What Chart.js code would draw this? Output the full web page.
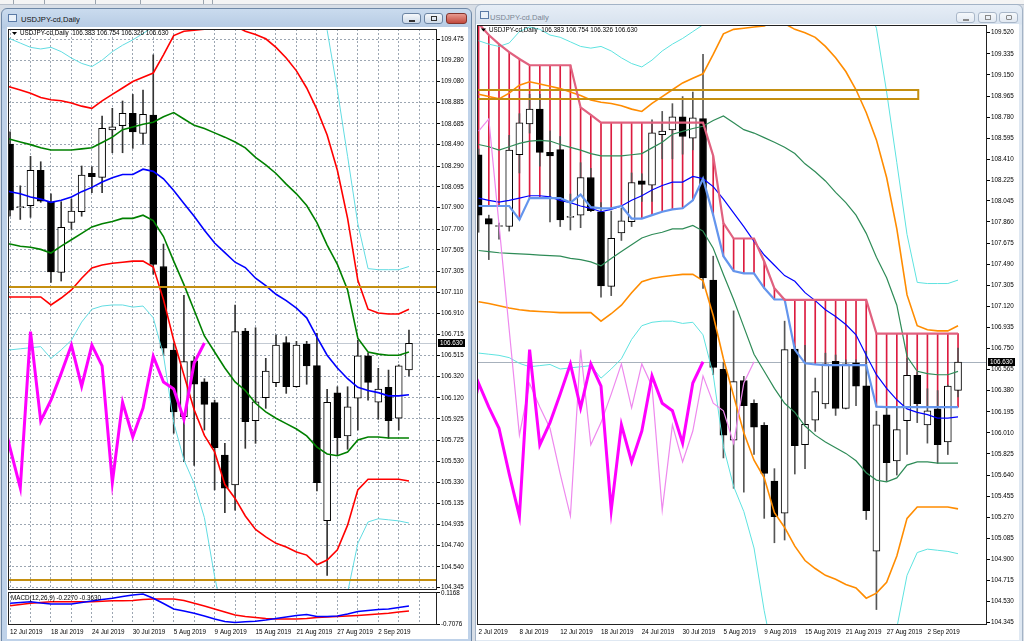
<!DOCTYPE html>
<html>
<head>
<meta charset="utf-8">
<script src="https://cdn.jsdelivr.net/npm/chart.js@4.4.1/dist/chart.umd.min.js"></script>
<style>
html, body { margin: 0; padding: 0; }
body { width: 1024px; height: 641px; position: relative; overflow: hidden; background: #d8dee6; font-family: "Liberation Sans", Arial, sans-serif; }
#strip { position: absolute; left: 0; top: 0; width: 1024px; height: 4px; background: #f4f4f4; border-bottom: 1px solid #b9c1cc; }
#strip i { position: absolute; top: 0; width: 1px; height: 4px; background: #9aa3ad; }
.win { position: absolute; box-sizing: border-box; border: 1px solid #6f88a6; border-radius: 6px 6px 0 0; background: linear-gradient(#cadbee, #b6cbe4 19px, #bfd2e9 20px); }
.win.off { border-color: #a3b3c6; background: linear-gradient(#e6edf6, #d8e3ef 19px, #dfe8f2 20px); }
.ttl { position: absolute; left: 19px; font-size: 7.6px; color: #111; white-space: nowrap; }
.off .ttl { color: #7a8593; }
.ico { position: absolute; left: 6px; width: 7px; height: 6px; border: 1px solid #5a7aa6; background: #eaf1f9; }
.btn { position: absolute; height: 11px; box-sizing: border-box; border: 1px solid #6b84a3; border-radius: 3px; background: linear-gradient(#f5f8fb, #cfdbe9); }
.btn.x { background: linear-gradient(#e89a90, #c24a3e); border-color: #84342d; }
.off .btn { border-color: #a9b7c9; background: linear-gradient(#f5f8fb, #e2e9f2); }
.btn i { position: absolute; border: 1px solid #333; box-sizing: border-box; }
.off .btn i { border-color: #888; }
.client { position: absolute; background: #fff; }
canvas { position: absolute; }
</style>
</head>
<body>
<div id="strip"><i style="left:13px"></i><i style="left:44px"></i><i style="left:95px"></i><i style="left:140px"></i><i style="left:203px"></i><i style="left:212px"></i></div>

<div class="win" style="left:1px; top:8px; width:471px; height:645px;">
  <div class="ico" style="top:5px;"></div>
  <div class="ttl" style="top:6px;">USDJPY-cd,Daily</div>
  <div class="btn" style="left:400px; top:4px; width:19px;"><i style="left:6px; top:6px; width:6px; height:2px;"></i></div>
  <div class="btn" style="left:422px; top:4px; width:19px;"><i style="left:6px; top:2px; width:6px; height:5px;"></i></div>
  <div class="btn x" style="left:444px; top:4px; width:21px;"></div>
</div>
<div class="client" style="left:7px; top:27px; width:461px; height:612px;"></div>

<div class="win off" style="left:475px; top:4px; width:548px; height:650px;">
  <div class="ico" style="top:6px; left:4px;"></div>
  <div class="ttl" style="top:8px; left:14px;">USDJPY-cd,Daily</div>
  <div class="btn" style="left:480px; top:7px; width:19px;"><i style="left:6px; top:6px; width:6px; height:2px;"></i></div>
  <div class="btn" style="left:502px; top:7px; width:19px;"><i style="left:6px; top:2px; width:6px; height:5px;"></i></div>
  <div class="btn" style="left:523px; top:7px; width:19px;"><i style="left:6px; top:2px; width:6px; height:5px; border-radius:1px;"></i></div>
</div>
<div class="client" style="left:476px; top:24px; width:543px; height:616px;"></div>

<canvas id="cvL" width="460" height="564" style="left:8px; top:29px;"></canvas>
<canvas id="cvM" width="460" height="53" style="left:8px; top:588px;"></canvas>
<canvas id="cvR" width="541" height="616" style="left:477px; top:25px;"></canvas>

<script>
// USDJPY daily, 2 Jul 2019 - 5 Sep 2019
const days = ['2 Jul 2019','3 Jul 2019','4 Jul 2019','5 Jul 2019','8 Jul 2019','9 Jul 2019','10 Jul 2019','11 Jul 2019',
  '12 Jul 2019','15 Jul 2019','16 Jul 2019','17 Jul 2019','18 Jul 2019','19 Jul 2019','22 Jul 2019','23 Jul 2019','24 Jul 2019','25 Jul 2019',
  '26 Jul 2019','29 Jul 2019','30 Jul 2019','31 Jul 2019','1 Aug 2019','2 Aug 2019','5 Aug 2019','6 Aug 2019','7 Aug 2019','8 Aug 2019',
  '9 Aug 2019','12 Aug 2019','13 Aug 2019','14 Aug 2019','15 Aug 2019','16 Aug 2019','19 Aug 2019','20 Aug 2019','21 Aug 2019','22 Aug 2019',
  '23 Aug 2019','26 Aug 2019','27 Aug 2019','28 Aug 2019','29 Aug 2019','30 Aug 2019','2 Sep 2019','3 Sep 2019','4 Sep 2019','5 Sep 2019'];

const open = [108.45, 107.89, 107.82, 107.82, 108.45, 108.72, 108.85, 108.47,
  108.495, 107.90, 107.92, 108.25, 107.95, 107.295, 107.763, 107.862, 108.221, 108.184,
  108.627, 108.667, 108.783, 108.596, 108.767, 107.35, 106.568, 105.945, 106.468, 106.27,
  106.076, 105.586, 105.306, 106.746, 105.907, 106.122, 106.263, 106.637, 106.225, 106.624,
  106.422, 104.972, 106.169, 105.764, 106.117, 106.515, 106.08, 106.22, 105.93, 106.383];
const high = [108.50, 107.92, 107.85, 108.62, 108.81, 108.98, 108.98, 108.66,
  108.61, 108.105, 108.38, 108.33, 108.03, 107.956, 107.981, 108.29, 108.283, 108.757,
  108.83, 108.898, 108.96, 109.00, 109.33, 107.56, 106.63, 107.08, 106.506, 106.30,
  106.10, 105.696, 106.99, 106.771, 106.777, 106.491, 106.709, 106.693, 106.65, 106.65,
  106.725, 106.20, 106.225, 106.225, 106.662, 106.54, 106.397, 106.381, 106.43, 106.754];
const low = [107.77, 107.53, 107.71, 107.78, 108.29, 108.64, 108.35, 107.86,
  107.82, 107.79, 107.81, 107.95, 107.20, 107.214, 107.698, 107.82, 108.04, 108.04,
  108.414, 108.414, 108.455, 108.493, 107.277, 106.52, 105.79, 105.524, 105.49, 105.82,
  105.26, 105.046, 105.07, 105.649, 105.696, 106.023, 106.225, 106.163, 106.22, 106.248,
  105.25, 104.46, 105.586, 105.64, 105.82, 106.10, 105.92, 105.743, 105.82, 106.326];
const close = [107.92, 107.84, 107.825, 108.49, 108.73, 108.85, 108.47, 108.44,
  107.878, 107.905, 108.25, 107.96, 107.30, 107.716, 107.869, 108.206, 108.19, 108.642,
  108.657, 108.783, 108.61, 108.773, 107.37, 106.585, 105.99, 106.46, 106.248, 106.06,
  105.655, 105.275, 106.74, 105.898, 106.085, 106.372, 106.615, 106.225, 106.615, 106.419,
  105.327, 106.08, 105.748, 106.038, 106.515, 106.266, 106.204, 105.907, 106.42, 106.63];

// Bollinger bands (middle, +-1, +-2, +-3 sigma)
const bbMid = [108.07, 108.05, 108.035, 108.05, 108.07, 108.09, 108.09, 108.08,
  108.05, 108.03, 108.00, 107.98, 107.95, 107.97, 108.00, 108.05, 108.09, 108.14,
  108.18, 108.21, 108.21, 108.26, 108.24, 108.17, 108.06, 107.94, 107.82, 107.69,
  107.57, 107.48, 107.39, 107.34, 107.24, 107.17, 107.09, 107.03, 106.96, 106.87,
  106.69, 106.52, 106.40, 106.30, 106.22, 106.19, 106.17, 106.14, 106.14, 106.15];
const bbUp1 = [108.54, 108.52, 108.49, 108.52, 108.55, 108.57, 108.575, 108.57,
  108.54, 108.515, 108.49, 108.46, 108.44, 108.44, 108.44, 108.45, 108.46, 108.51,
  108.56, 108.63, 108.655, 108.68, 108.70, 108.75, 108.79, 108.73, 108.67, 108.64,
  108.60, 108.56, 108.515, 108.46, 108.37, 108.30, 108.22, 108.12, 108.03, 107.92,
  107.76, 107.55, 107.37, 107.13, 106.68, 106.55, 106.53, 106.52, 106.52, 106.55];
const bbDn1 = [107.61, 107.60, 107.59, 107.585, 107.58, 107.575, 107.57, 107.565,
  107.56, 107.54, 107.53, 107.51, 107.476, 107.54, 107.60, 107.66, 107.72, 107.75,
  107.77, 107.80, 107.80, 107.83, 107.78, 107.63, 107.40, 107.18, 106.94, 106.70,
  106.55, 106.40, 106.27, 106.19, 106.07, 105.99, 105.93, 105.88, 105.83, 105.765,
  105.66, 105.596, 105.58, 105.615, 105.727, 105.755, 105.755, 105.745, 105.745, 105.745];
const bbUp2 = [108.98, 108.96, 108.94, 108.99, 109.06, 109.09, 109.07, 109.05,
  109.03, 109.00, 108.97, 108.93, 108.91, 108.90, 108.88, 108.85, 108.83, 108.90,
  108.96, 109.02, 109.08, 109.12, 109.16, 109.33, 109.51, 109.55, 109.56, 109.57,
  109.58, 109.62, 109.60, 109.55, 109.52, 109.48, 109.40, 109.30, 109.18, 109.02,
  108.82, 108.58, 108.25, 107.80, 107.22, 106.95, 106.915, 106.905, 106.905, 106.95];
const bbDn2 = [107.16, 107.145, 107.125, 107.105, 107.09, 107.08, 107.075, 107.07,
  107.065, 107.065, 107.065, 107.065, 106.99, 107.055, 107.13, 107.24, 107.336, 107.364,
  107.38, 107.39, 107.40, 107.40, 107.345, 107.04, 106.66, 106.335, 106.01, 105.77,
  105.615, 105.31, 105.18, 105.016, 104.89, 104.82, 104.76, 104.726, 104.68, 104.65,
  104.56, 104.604, 104.70, 104.93, 105.26, 105.36, 105.36, 105.36, 105.36, 105.343];
const bbUp3 = [109.45, 109.42, 109.40, 109.43, 109.53, 109.57, 109.55, 109.50,
  109.48, 109.44, 109.40, 109.385, 109.40, 109.36, 109.30, 109.25, 109.22, 109.28,
  109.36, 109.42, 109.47, 109.53, 109.59, 109.90, 110.20, 110.40, 110.50, 110.60,
  110.65, 110.70, 110.75, 110.75, 110.70, 110.60, 110.50, 110.30, 110.10, 109.95,
  109.80, 109.56, 109.00, 108.38, 107.75, 107.33, 107.32, 107.32, 107.32, 107.35];
const bbDn3 = [106.71, 106.70, 106.69, 106.67, 106.62, 106.59, 106.60, 106.61,
  106.57, 106.58, 106.59, 106.60, 106.49, 106.57, 106.66, 106.83, 106.95, 106.98,
  106.99, 106.99, 106.97, 106.98, 106.87, 106.52, 105.89, 105.54, 105.32, 105.00,
  104.45, 104.00, 103.70, 103.50, 103.40, 103.30, 103.20, 103.15, 103.10, 103.10,
  103.10, 103.30, 103.70, 104.30, 104.76, 104.96, 104.99, 104.98, 104.97, 104.95];

// cloud edges (right chart)
const cloudTop = [109.60, 109.50, 109.42, 109.35, 109.29, 109.235, 109.235, 109.235,
  109.235, 109.235, 108.865, 108.80, 108.731, 108.731, 108.731, 108.731, 108.731, 108.731,
  108.731, 108.731, 108.731, 108.731, 108.731, 108.44, 107.85, 107.715, 107.715, 107.715,
  107.513, 107.278, 107.177, 107.177, 107.177, 107.177, 107.177, 107.177, 107.177, 107.177,
  107.177, 106.881, 106.881, 106.881, 106.881, 106.881, 106.881, 106.881, 106.881, 106.881];
const cloudBot = [108.00, 108.00, 108.00, 108.00, 107.88, 108.07, 108.07, 108.07,
  108.07, 108.03, 108.10, 107.99, 107.98, 107.98, 108.00, 107.89, 107.89, 107.92,
  107.95, 107.97, 107.98, 108.05, 108.24, 107.92, 107.56, 107.43, 107.41, 107.41,
  107.28, 107.18, 107.18, 106.74, 106.62, 106.61, 106.605, 106.605, 106.605, 106.605,
  106.605, 106.24, 106.236, 106.236, 106.236, 106.236, 106.236, 106.236, 106.236, 106.236];

// magenta line plotted in price units (ends on 8 Aug); the right chart also shows it 5 bars earlier
const osc = [108.656, 108.764, 107.839, 106.915, 105.99, 106.444, 106.236, 106.05,
  105.65, 105.28, 106.74, 105.905, 106.10, 106.35, 106.615, 106.23, 106.615, 106.42,
  105.33, 106.08, 105.755, 106.026, 106.51, 106.27, 106.204, 105.92, 106.447, 106.634];
const oscShift = 5;

// MACD(12,26,9) from 12 Jul
const macdStart = 8;
const macdMain = [-0.157, -0.136, -0.115, -0.149, -0.176, -0.176, -0.176, -0.136, -0.096, -0.056,
  -0.024, 0.024, 0.064, 0.090, -0.024, -0.163, -0.309, -0.362, -0.423, -0.495,
  -0.575, -0.641, -0.668, -0.647, -0.633, -0.601, -0.561, -0.521, -0.482, -0.455,
  -0.508, -0.508, -0.495, -0.442, -0.375, -0.349, -0.322, -0.309, -0.269, -0.227];
const macdSignal = [-0.221, -0.189, -0.157, -0.136, -0.115, -0.115, -0.115, -0.115, -0.115, -0.101,
  -0.091, -0.088, -0.083, -0.056, -0.043, -0.043, -0.043, -0.083, -0.157, -0.229,
  -0.309, -0.389, -0.468, -0.508, -0.535, -0.561, -0.575, -0.575, -0.575, -0.561,
  -0.535, -0.521, -0.508, -0.495, -0.482, -0.463, -0.442, -0.423, -0.389, -0.363];

// axis ticks
const leftTicks = [109.475, 109.280, 109.080, 108.885, 108.685, 108.490, 108.290, 108.095, 107.900, 107.700,
  107.505, 107.305, 107.110, 106.910, 106.715, 106.515, 106.320, 106.120, 105.925, 105.725,
  105.530, 105.330, 105.135, 104.935, 104.740, 104.540, 104.345];
const rightTicks = [109.520, 109.335, 109.150, 108.965, 108.780, 108.595, 108.410, 108.225, 108.045, 107.860,
  107.675, 107.490, 107.305, 107.120, 106.935, 106.750, 106.565, 106.380, 106.195, 106.010,
  105.825, 105.640, 105.455, 105.270, 105.085, 104.900, 104.715, 104.530, 104.345];
const macdTicks = [0.1168, -0.7076];
const dateTicks = [0, 4, 8, 12, 16, 20, 24, 28, 32, 36, 40, 44];

// drawn objects
const leftLevels = [107.16, 104.42];
const zone = { from: -2, to: 43.1, low: 108.942, high: 109.017 };

const last = close.length - 1;
const headerText = 'USDJPY-cd,Daily  ' + [open[last], high[last], low[last], close[last]].map(v => v.toFixed(3)).join(' ');
const macdText = 'MACD(12,26,9) ' + macdMain[macdMain.length - 1].toFixed(4) + ' ' + macdSignal[macdSignal.length - 1].toFixed(4);

Chart.defaults.font.family = '"Liberation Sans", Arial, sans-serif';
Chart.defaults.font.size = 6.3;
Chart.defaults.color = '#000';
Chart.defaults.animation = false;
Chart.defaults.events = [];
Chart.defaults.plugins.legend.display = false;
Chart.defaults.plugins.tooltip.enabled = false;

const GRID = '#9ca6b2';
const FONT = '6.3px "Liberation Sans", Arial, sans-serif';
const range = (a, b) => Array.from({ length: b - a }, (_, k) => a + k);

const lineSet = (xs, vals, color, width, shift = 0) => ({
  type: 'line',
  data: xs.map(i => ({ x: i - shift, y: vals[i] })),
  borderColor: color, borderWidth: width,
  pointRadius: 0, tension: 0, fill: false, clip: 0, order: 0
});

const candleSets = (xs, wickColor) => [
  {
    type: 'bar', data: xs.map(i => ({ x: i, y: [low[i], high[i]] })),
    backgroundColor: wickColor, borderWidth: 0, barThickness: 1, grouped: false, clip: 0, order: 2
  },
  {
    type: 'bar', data: xs.map(i => ({ x: i, y: [open[i], close[i]] })),
    backgroundColor: xs.map(i => close[i] >= open[i] ? '#ffffff' : '#000000'),
    borderColor: '#000', borderWidth: 1, borderSkipped: false, barThickness: 7,
    minBarLength: 1, grouped: false, clip: 0, order: 1
  }
];

const mtPlugin = {
  id: 'mt',
  beforeDatasetsDraw(chart, args, o) {
    if (o.priceLine == null) return;
    const { ctx, chartArea: a, scales } = chart;
    const y = Math.round(scales.y.getPixelForValue(o.priceLine)) + 0.5;
    ctx.save();
    ctx.strokeStyle = o.priceLineColor;
    ctx.lineWidth = 1;
    ctx.beginPath(); ctx.moveTo(a.left, y); ctx.lineTo(a.right, y); ctx.stroke();
    ctx.restore();
  },
  afterDatasetsDraw(chart, args, o) {
    const { ctx, chartArea: a, scales: { x, y } } = chart;
    ctx.save();
    ctx.beginPath(); ctx.rect(a.left, a.top, a.right - a.left, a.bottom - a.top); ctx.clip();
    ctx.strokeStyle = '#c48f10';
    ctx.lineWidth = 2;
    (o.levels || []).forEach(v => {
      const py = Math.round(y.getPixelForValue(v));
      ctx.beginPath(); ctx.moveTo(a.left, py); ctx.lineTo(a.right, py); ctx.stroke();
    });
    if (o.zone) {
      const x1 = x.getPixelForValue(o.zone.from), x2 = x.getPixelForValue(o.zone.to);
      const y1 = Math.round(y.getPixelForValue(o.zone.high)), y2 = Math.round(y.getPixelForValue(o.zone.low));
      ctx.strokeRect(x1, y1, x2 - x1, y2 - y1);
    }
    ctx.restore();
  },
  afterDraw(chart, args, o) {
    const { ctx, chartArea: a, scales } = chart;
    ctx.save();
    ctx.strokeStyle = '#222';
    ctx.lineWidth = 1;
    ctx.strokeRect(a.left + 0.5, a.top + 0.5, a.right - a.left - 1, a.bottom - a.top - 1);
    ctx.font = FONT;
    ctx.textBaseline = 'middle';
    ctx.fillStyle = '#000';
    if (o.header) {
      const hx = a.left + o.headerX, hy = a.top + o.headerY;
      ctx.beginPath(); ctx.moveTo(hx, hy - 1.5); ctx.lineTo(hx + 5, hy - 1.5); ctx.lineTo(hx + 2.5, hy + 1.5); ctx.closePath(); ctx.fill();
      ctx.fillText(o.header, hx + 8, hy);
    }
    if (o.label) ctx.fillText(o.label, a.left + 3, a.top + 6);
    if (o.priceBox != null) {
      const py = Math.round(scales.y.getPixelForValue(o.priceBox));
      ctx.fillStyle = '#000';
      ctx.fillRect(a.right + 1, py - 4, 27, 8);
      ctx.fillStyle = '#fff';
      ctx.fillText(o.priceBox.toFixed(3), a.right + 3, py + 0.5);
    }
    ctx.restore();
  }
};

function axes(o) {
  return {
    x: {
      type: 'linear', min: o.xMin, max: o.xMax, offset: false,
      afterBuildTicks: s => { s.ticks = o.xTicks.map(v => ({ value: v })); },
      afterFit: s => { s.height = o.xHeight; s.paddingLeft = 0; s.paddingRight = 0; },
      grid: { display: o.grid, drawOnChartArea: o.grid, drawTicks: false, color: GRID, offset: false },
      border: { display: false, dash: [2, 2] },
      ticks: {
        display: o.xLabels, align: 'start', maxRotation: 0, minRotation: 0, autoSkip: false, padding: 3,
        callback: v => dateTicks.includes(v) ? days[v] : ''
      }
    },
    y: {
      type: 'linear', position: 'right', min: o.yMin, max: o.yMax, beginAtZero: false,
      afterBuildTicks: s => { s.ticks = o.yTicks.map(v => ({ value: v })); },
      afterFit: s => { s.width = 31; s.paddingTop = 0; s.paddingBottom = 0; },
      grid: { drawOnChartArea: o.yGrid, drawTicks: true, tickLength: 3, tickColor: '#000', tickBorderDash: [], color: GRID },
      border: { display: false, dash: [2, 2] },
      ticks: { padding: 1, autoSkip: false, callback: v => v.toFixed(o.dec) }
    }
  };
}

// left window: Bollinger bands
const leftBars = range(8, 48);
const leftLines = range(7, 48);
const leftGrid = range(8, 49).filter(i => i % 2 === 0);

new Chart(document.getElementById('cvL'), {
  type: 'bar',
  data: {
    datasets: [
      lineSet(range(7, 28), osc, '#ff00ff', 3),
      lineSet(leftLines, bbMid, '#0000ff', 1.6),
      lineSet(leftLines, bbUp1, '#008000', 1.6),
      lineSet(leftLines, bbDn1, '#008000', 1.6),
      lineSet(leftLines, bbUp2, '#ff0000', 1.6),
      lineSet(leftLines, bbDn2, '#ff0000', 1.6),
      lineSet(leftLines, bbUp3, '#62dce2', 1),
      lineSet(leftLines, bbDn3, '#62dce2', 1),
      ...candleSets(leftBars, '#333')
    ]
  },
  options: {
    responsive: false,
    layout: { padding: 0 },
    scales: axes({ xMin: 7.8, xMax: 49.74, xTicks: leftGrid, xHeight: 3, grid: true, xLabels: false,
      yMin: 104.3235, yMax: 109.5717, yTicks: leftTicks, yGrid: true, dec: 3 }),
    plugins: { mt: { header: headerText, headerX: 4, headerY: 4.5, priceLine: close[last], priceLineColor: '#c3cad3',
      priceBox: close[last], levels: leftLevels } }
  },
  plugins: [mtPlugin]
});

new Chart(document.getElementById('cvM'), {
  type: 'line',
  data: {
    datasets: [
      lineSet(range(0, 40), macdMain, '#0000ff', 1.6, -macdStart),
      lineSet(range(0, 40), macdSignal, '#ff0000', 1.6, -macdStart)
    ]
  },
  options: {
    responsive: false,
    layout: { padding: { top: 4 } },
    scales: axes({ xMin: 7.8, xMax: 49.74, xTicks: leftGrid, xHeight: 16, grid: true, xLabels: true,
      yMin: -0.734, yMax: 0.143, yTicks: macdTicks, yGrid: false, dec: 4 }),
    plugins: { mt: { label: macdText } }
  },
  plugins: [mtPlugin]
});

// right window: Bollinger bands + cloud
const all = range(0, 48);
new Chart(document.getElementById('cvR'), {
  type: 'bar',
  data: {
    datasets: [
      lineSet(range(4, 28), osc, '#ff00ff', 3, oscShift),
      lineSet(range(0, 28), osc, '#ee88ee', 1.2),
      lineSet(all, cloudTop, '#e0617f', 2.2),
      lineSet(all, cloudBot, '#6495ed', 2.2),
      lineSet(all, bbMid, '#0000ff', 1.2),
      lineSet(all, bbUp1, '#2e8b57', 1.2),
      lineSet(all, bbDn1, '#2e8b57', 1.2),
      lineSet(all, bbUp2, '#ff8c00', 1.6),
      lineSet(all, bbDn2, '#ff8c00', 1.6),
      lineSet(all, bbUp3, '#5ee3e0', 1),
      lineSet(all, bbDn3, '#5ee3e0', 1),
      ...candleSets(all, '#555'),
      {
        type: 'bar', data: all.map(i => ({ x: i, y: [cloudBot[i], cloudTop[i]] })),
        backgroundColor: '#dc1c40', borderWidth: 0, barThickness: 1, grouped: false, clip: 0, order: 3
      }
    ]
  },
  options: {
    responsive: false,
    layout: { padding: 0 },
    scales: axes({ xMin: -0.157, xMax: 49.84, xTicks: dateTicks, xHeight: 16, grid: false, xLabels: true,
      yMin: 104.3245, yMax: 109.588, yTicks: rightTicks, yGrid: false, dec: 3 }),
    plugins: { mt: { header: headerText, headerX: 4, headerY: 5, priceLine: close[last], priceLineColor: '#a7b1bc',
      priceBox: close[last], zone: zone } }
  },
  plugins: [mtPlugin]
});
</script>
</body>
</html>
